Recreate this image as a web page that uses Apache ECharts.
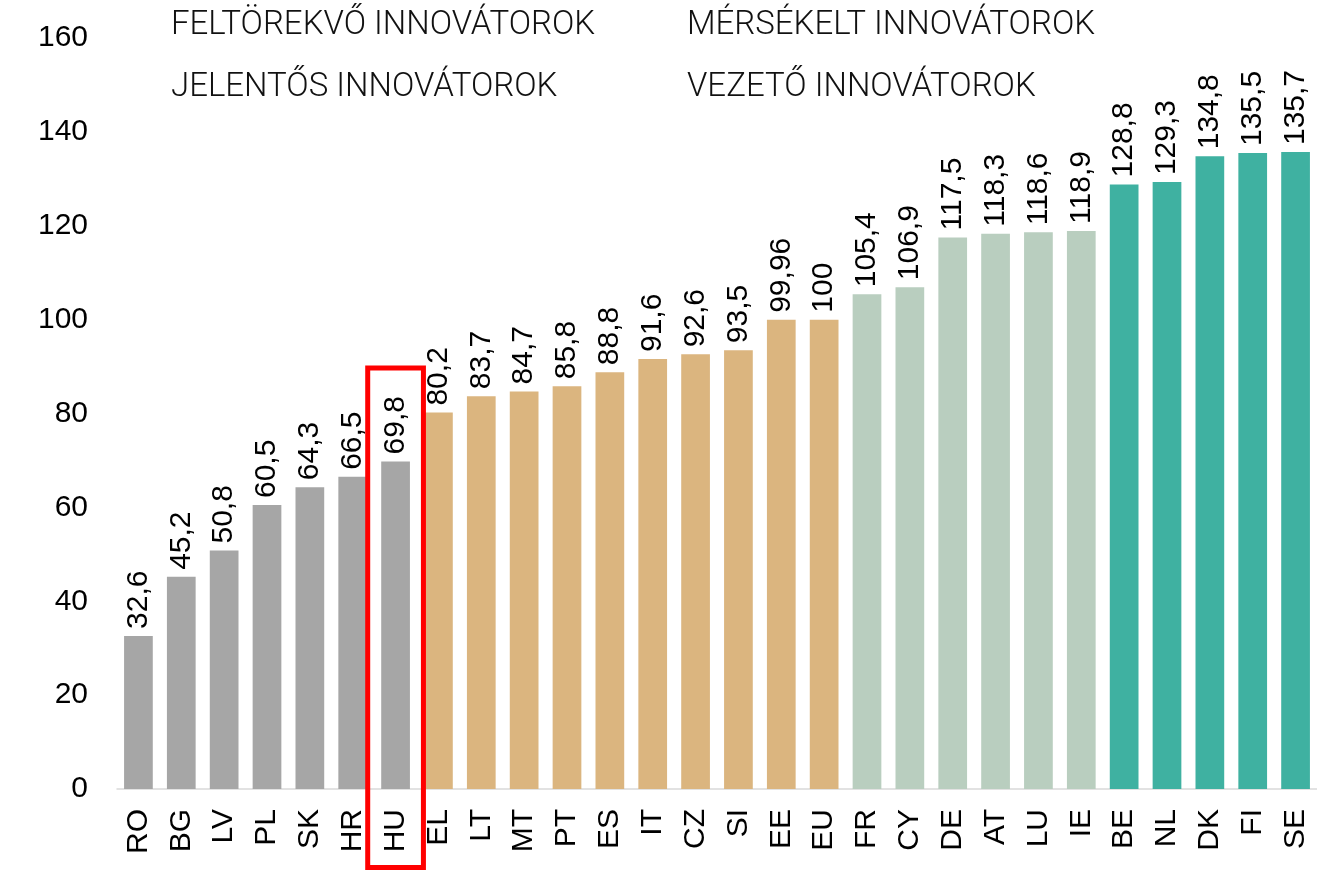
<!DOCTYPE html>
<html>
<head>
<meta charset="utf-8">
<script src="https://cdn.jsdelivr.net/npm/echarts@6/dist/echarts.min.js"></script>
<style>
html,body{margin:0;padding:0;background:#fff;}
#chart{width:1317px;height:872px;}
</style>
</head>
<body>
<div id="chart"></div>
<script>
const categories = ['RO','BG','LV','PL','SK','HR','HU','EL','LT','MT','PT','ES','IT','CZ','SI','EE','EU','FR','CY','DE','AT','LU','IE','BE','NL','DK','FI','SE'];
const values = [32.6,45.2,50.8,60.5,64.3,66.5,69.8,80.2,83.7,84.7,85.8,88.8,91.6,92.6,93.5,99.96,100,105.4,106.9,117.5,118.3,118.6,118.9,128.8,129.3,134.8,135.5,135.7];
const groupOf = [0,0,0,0,0,0,0,1,1,1,1,1,1,1,1,1,1,2,2,2,2,2,2,3,3,3,3,3];
const groupNames = ['FELTÖREKVŐ INNOVÁTOROK','MÉRSÉKELT INNOVÁTOROK','JELENTŐS INNOVÁTOROK','VEZETŐ INNOVÁTOROK'];
const groupColors = ['#A6A6A6','#DBB57F','#B9CEBF','#3FB1A1'];
const yTicks = [0,20,40,60,80,100,120,140,160];
const highlight = 'HU';

const labelFont = "'Liberation Sans', Arial, sans-serif";
const legendText = { fontFamily: 'Roboto', fontWeight: 300, fontSize: 33, color: '#111' };

const series = groupNames.map((name, g) => ({
  name: name,
  type: 'bar',
  stack: 'all',
  barWidth: '67%',
  itemStyle: { color: groupColors[g] },
  data: values.map((v, i) => groupOf[i] === g ? v : '-'),
  label: {
    show: true,
    position: 'top',
    rotate: 90,
    align: 'left',
    verticalAlign: 'middle',
    distance: 7,
    fontFamily: labelFont,
    fontSize: 30,
    color: '#000',
    formatter: p => String(p.value).replace('.', ',')
  }
}));

const chart = echarts.init(document.getElementById('chart'));
chart.setOption({
  animation: false,
  backgroundColor: '#fff',
  grid: { left: 117, right: -6, top: 38, bottom: 83, containLabel: false },
  legend: [
    {
      data: [groupNames[0], groupNames[2]],
      orient: 'vertical', left: 161, top: 4, itemGap: 29,
      itemWidth: 0, itemHeight: 0, icon: 'rect',
      itemStyle: { opacity: 0 },
      selectedMode: false,
      textStyle: legendText
    },
    {
      data: [groupNames[1], groupNames[3]],
      orient: 'vertical', left: 677, top: 4, itemGap: 29,
      itemWidth: 0, itemHeight: 0, icon: 'rect',
      itemStyle: { opacity: 0 },
      selectedMode: false,
      textStyle: legendText
    }
  ],
  xAxis: {
    type: 'category',
    data: categories,
    axisLine: { lineStyle: { color: '#D9D9D9', width: 1.5 } },
    axisTick: { show: false },
    axisLabel: {
      rotate: 90, interval: 0, margin: 20,
      fontFamily: labelFont, fontSize: 30, color: '#000'
    }
  },
  yAxis: {
    type: 'value',
    min: yTicks[0], max: yTicks[yTicks.length - 1], interval: 20,
    axisLine: { show: false },
    axisTick: { show: false },
    splitLine: { show: false },
    axisLabel: { margin: 29, fontFamily: labelFont, fontSize: 30, color: '#000' }
  },
  series: series
});

// Red highlight box around the HU bar and its label, placed via axis scales
const idx = categories.indexOf(highlight);
const cx = chart.convertToPixel({ xAxisIndex: 0 }, categories[idx]);
const cx2 = chart.convertToPixel({ xAxisIndex: 0 }, categories[idx + 1]);
const band = cx2 - cx;
const yTop = chart.convertToPixel({ yAxisIndex: 0 }, 89.7);
const boxW = band * 1.3;
const yBottom = chart.getHeight() - 4.5;
chart.setOption({
  graphic: [{
    type: 'rect',
    shape: { x: cx - boxW / 2, y: yTop, width: boxW, height: yBottom - yTop },
    style: { fill: 'none', stroke: '#FF0000', lineWidth: 5 },
    z: 100
  }]
});
</script>
</body>
</html>
